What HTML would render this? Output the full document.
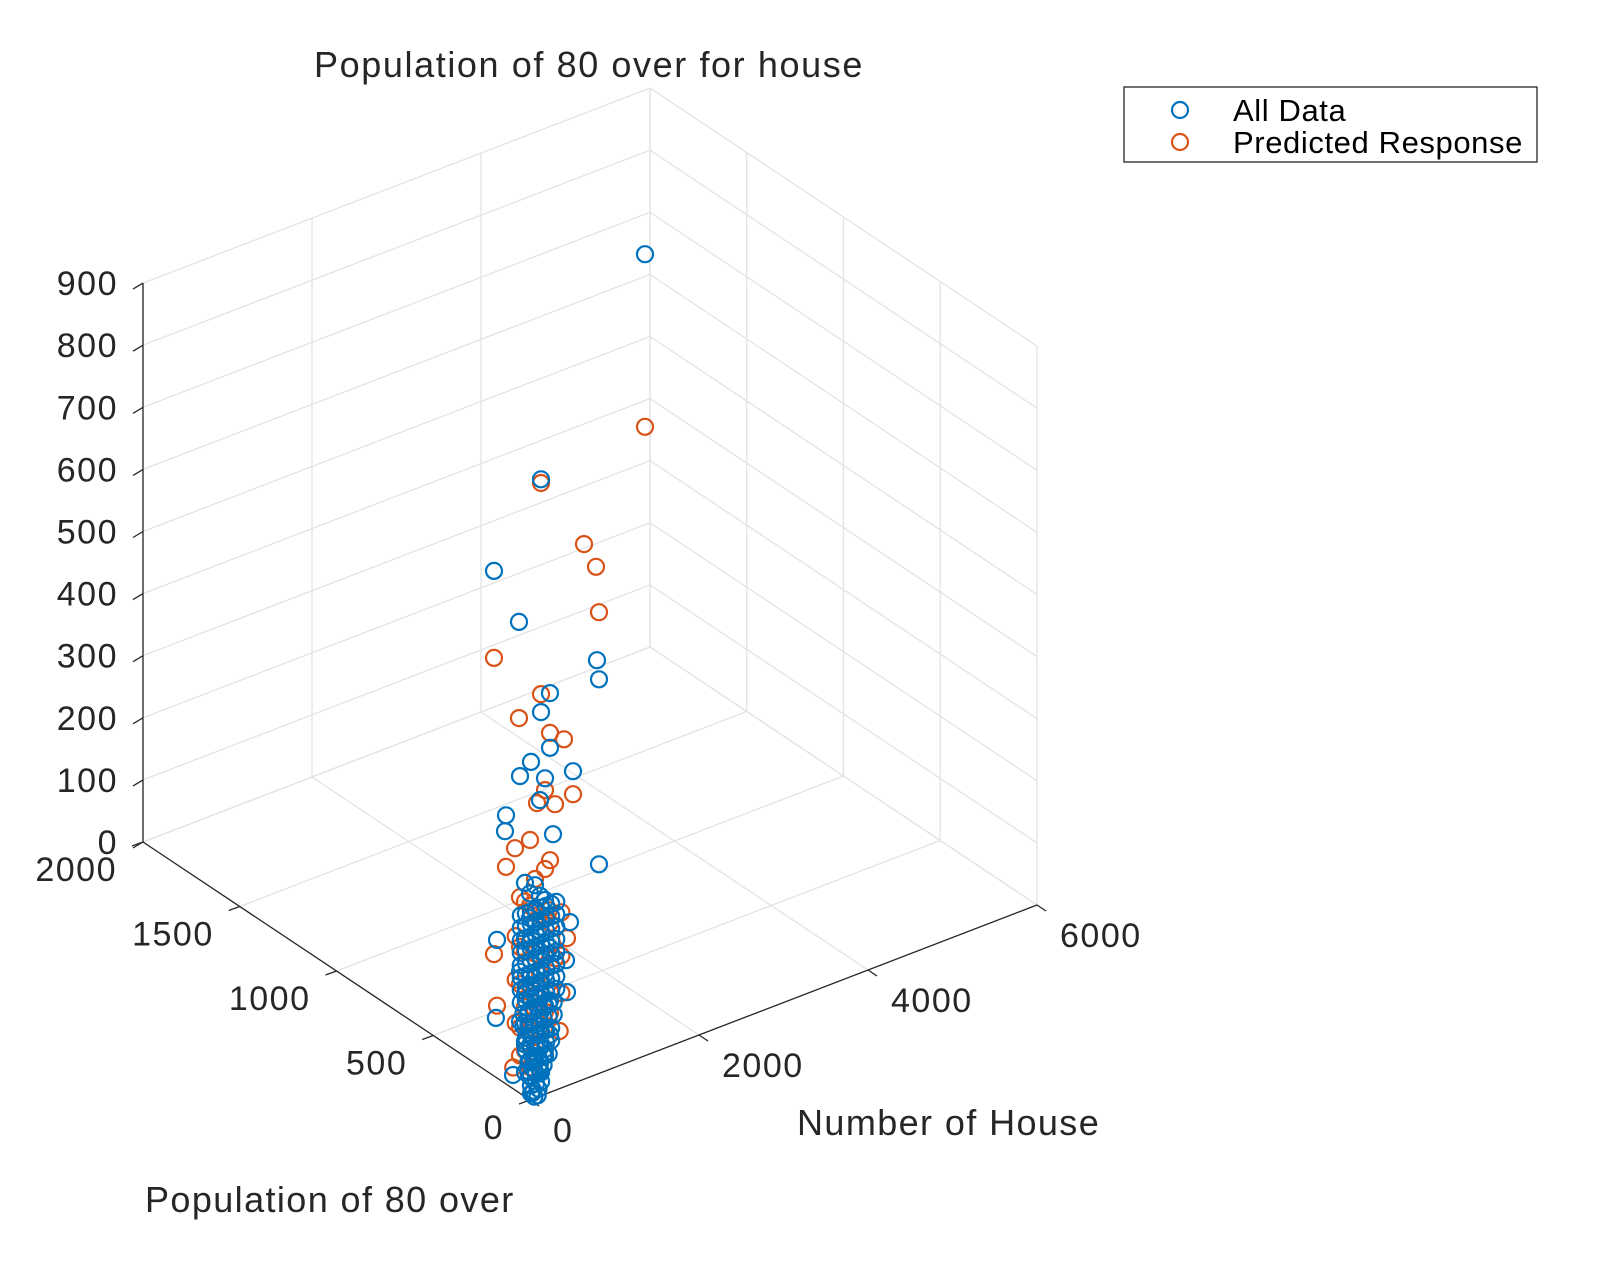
<!DOCTYPE html>
<html><head><meta charset="utf-8"><style>
body{margin:0;background:#fff}
svg{display:block;font-family:"Liberation Sans",sans-serif}
</style></head><body>
<svg id="chart" width="1600" height="1275" viewBox="0 0 1600 1275">
<text x="589" y="77" font-size="36" letter-spacing="1.6" text-anchor="middle" fill="#262626">Population of 80 over for house</text>
<g id="grid"></g>
<g id="axes"></g>
<g id="pts"></g>
<text x="145" y="1212" font-size="36" letter-spacing="1.4" fill="#262626">Population of 80 over</text>
<text x="797" y="1135" font-size="36" letter-spacing="1.4" fill="#262626">Number of House</text>
<g>
<rect x="1124" y="87" width="413" height="75" fill="#fff" stroke="#262626" stroke-width="1.3"/>
<circle cx="1180" cy="110" r="8" fill="none" stroke="#0072BD" stroke-width="2.2"/>
<text x="1233" y="121" font-size="31" letter-spacing="0.6" fill="#000">All Data</text>
<circle cx="1180" cy="142" r="8" fill="none" stroke="#D95319" stroke-width="2.2"/>
<text x="1233" y="153" font-size="31" letter-spacing="0.6" fill="#000">Predicted Response</text>
</g>
</svg>
<script>
const pTicks=[0,500,1000,1500,2000];
const hTicks=[0,2000,4000,6000];
const zTicks=[0,100,200,300,400,500,600,700,800,900];
// All Data outliers (pop80, house, value)
const blueP=[100,100,300,100,100,100,100,100,100,100,100,100,100,100,300,300,100,100,300,100,100,300,100,100];
const blueH=[1590,359,261,99,1022,1046,466,359,466,241,111,406,738,1046,403,391,501,702,296,655,667,284,347,28];
const blueZ=[1258,960,776,744,634,602,610,585,522,511,495,476,470,304,375,350,381,229,180,170,118,55,444,18];
// All Data cluster
const blueCH=[170,229,288,347,406,229,288,347,170,229,288,347,406,466,111,229,288,347,406,170,229,288,347,406,466,111,170,229,288,347,406,170,229,288,347,406,466,229,288,347,170,288,406,229,347,288,229,347,170,288,
120,180,240,300,360,420,480,540,120,180,240,300,360,420,480,540,120,180,240,300,360,420,480,540,120,180,240,300,360,420,480,540,
120,180,240,300,360,420,480,540,120,180,240,300,360,420,480,540,120,180,240,300,360,420,480,540,120,180,240,300,360,420,480,540,
150,210,270,330,390,450,510,150,210,270,330,390,450,510,180,240,300,360,420,480,180,240,300,360,420,480,210,270,330,390,450,210,270,330,390,240,300,360,240,300,360,270,330,280,320,100,80];
const blueCZ=[320,300,310,290,280,260,250,240,230,220,210,200,190,200,180,170,160,150,160,140,130,120,125,110,115,100,95,90,85,80,70,60,55,50,45,40,60,30,25,20,15,10,30,5,8,35,75,100,65,140,
270,270,270,270,270,270,270,270,250,250,250,250,250,250,250,250,230,230,230,230,230,230,230,230,210,210,210,210,210,210,210,210,
190,190,190,190,190,190,190,190,170,170,170,170,170,170,170,170,150,150,150,150,150,150,150,150,130,130,130,130,130,130,130,130,
110,110,110,110,110,110,110,90,90,90,90,90,90,90,70,70,70,70,70,70,50,50,50,50,50,50,30,30,30,30,30,15,15,15,15,5,5,5,-10,-10,-10,-20,-20,-30,-30,0,0];
// Predicted Response outliers
const orP=[100,100,100,100,100,300,100,100,100,100,100,100,100,100,300,100,100,300,300,100,100,100];
const orH=[1590,359,868,1010,1046,261,359,99,466,631,738,406,312,525,403,51,667,296,261,454,466,229];
const orZ=[980,954,829,785,710,636,614,589,546,527,433,457,441,428,292,382,205,74,159,261,341,386];
// Predicted Response cluster
const orCH=[111,170,229,288,347,406,466,111,170,288,406,525,111,229,347,466,170,288,406,111,229,347,466,170,288,406,229,347,111,466,170,288,406,229,347,170,60,60,60,600,600,600,30,580];
const orCZ=[300,290,280,270,260,250,240,220,210,200,190,180,160,150,140,130,120,110,100,90,80,70,60,50,40,30,20,10,45,95,230,320,330,5,165,60,240,170,100,250,180,120,30,60];

const NS="http://www.w3.org/2000/svg";
function P(p,h,z){return [530-0.1935*p+0.0845*h, 1100-0.129*p-0.0325*h-0.621*z];}
function mk(tag,attrs,parent){const e=document.createElementNS(NS,tag);for(const k in attrs)e.setAttribute(k,attrs[k]);parent.appendChild(e);return e;}
const grid=document.getElementById('grid'),axes=document.getElementById('axes'),pts=document.getElementById('pts');
function gline(a,b){const l=mk('line',{x1:a[0],y1:a[1],x2:b[0],y2:b[1],stroke:'#e3e3e3','stroke-width':1.3},grid);

}
const pMax=2000,hMax=6000,zMax=900;
zTicks.forEach(z=>{gline(P(pMax,0,z),P(pMax,hMax,z));gline(P(pMax,hMax,z),P(0,hMax,z));});
hTicks.forEach(h=>{gline(P(pMax,h,0),P(pMax,h,zMax));gline(P(0,h,0),P(pMax,h,0));});
pTicks.forEach(p=>{gline(P(p,hMax,0),P(p,hMax,zMax));gline(P(p,0,0),P(p,hMax,0));});
function aline(a,b,name){const l=mk('line',{x1:a[0],y1:a[1],x2:b[0],y2:b[1],stroke:'#262626','stroke-width':1.3},axes);

}
aline(P(pMax,0,0),P(pMax,0,zMax),'z-axis-line');
aline(P(0,0,0),P(pMax,0,0),'x-axis-line');
aline(P(0,0,0),P(0,hMax,0),'y-axis-line');
function label(x,y,t,anchor,name){const e=mk('text',{x:x,y:y,'font-size':34,'letter-spacing':1.5,fill:'#262626','text-anchor':anchor},axes);e.textContent=t;

}
zTicks.forEach(z=>{const a=P(pMax,0,z);aline(a,[a[0]-10,a[1]+6],'z-tick');label(118,a[1]+12,String(z),'end','z-tick-label');});
pTicks.forEach(p=>{const a=P(p,0,0);aline(a,[a[0]-11,a[1]+4],'x-tick');label(a[0]-26,a[1]+39,String(p),'end','x-tick-label');});
hTicks.forEach(h=>{const a=P(0,h,0);aline(a,[a[0]+9,a[1]+6],'y-tick');label(a[0]+23,a[1]+42,String(h),'start','y-tick-label');});
function dot(p,h,z,col,name){const c=P(p,h,z);const e=mk('circle',{cx:c[0].toFixed(1),cy:c[1].toFixed(1),r:8,fill:'none',stroke:col,'stroke-width':2.2},pts);

}
const B='#0072BD',O='#D95319';
orCH.forEach((h,i)=>dot(100,h,orCZ[i],O,'predicted-point'));
orH.forEach((h,i)=>dot(orP[i],h,orZ[i],O,'predicted-point'));
blueCH.forEach((h,i)=>dot(i>=blueCH.length-2?30:100,h,blueCZ[i],B,'data-point'));
blueH.forEach((h,i)=>dot(blueP[i],h,blueZ[i],B,'data-point'));
</script>
</body></html>
